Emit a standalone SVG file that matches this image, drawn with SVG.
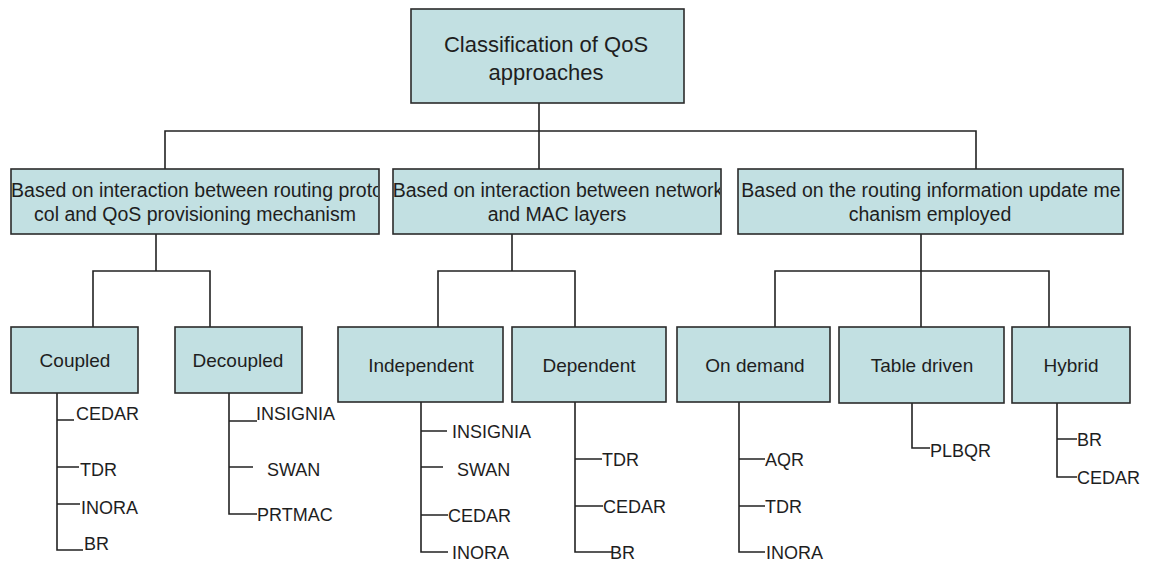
<svg xmlns="http://www.w3.org/2000/svg" width="1152" height="561" viewBox="0 0 1152 561">
<style>
.box{fill:#c2e0e2;stroke:#2b2b2b;stroke-width:1.6}
.t{font-family:"Liberation Sans",Arial,sans-serif;fill:#1e1e1e}
.c{text-anchor:middle}
.l1{font-size:22px}
.l2{font-size:19.5px}
.l3{font-size:19px}
.lf{font-size:18px}
.ln{fill:none;stroke:#222;stroke-width:1.6}
</style>
<defs>
<clipPath id="cp1"><rect x="12" y="170" width="366" height="63"/></clipPath>
<clipPath id="cp2"><rect x="394" y="170" width="326" height="63"/></clipPath>
<clipPath id="cp3"><rect x="739" y="170" width="383" height="63"/></clipPath>
</defs>
<rect width="1152" height="561" fill="#ffffff"/>
<g id="connectors">
<path class="ln" d="M539 103V169M165 169V131H976V169"/>
<path class="ln" d="M156 234V271M93 327V271H210V327"/>
<path class="ln" d="M512 234V271M438 327V271H575V327"/>
<path class="ln" d="M921 234V327M775 327V271H1049V327"/>
<path class="ln" d="M57 393V550H83M57 420H74M57 467H79M57 504H80"/>
<path class="ln" d="M229 393V514H257M229 421H257M229 467H253"/>
<path class="ln" d="M421 402V552H448M421 431H447M421 467H443M421 515H448"/>
<path class="ln" d="M575 402V552H613M575 459H602M575 506H603"/>
<path class="ln" d="M739 402V552H765M739 459H765M739 506H765"/>
<path class="ln" d="M912 403V448H930"/>
<path class="ln" d="M1057 403V477H1077M1057 439H1077"/>
</g>
<g id="root">
<rect class="box" x="411" y="9" width="273" height="94"/>
<text class="t c l1" x="546" y="52">Classification of QoS</text>
<text class="t c l1" x="546" y="80">approaches</text>
</g>
<g id="n-interaction-routing">
<rect class="box" x="11" y="169" width="368" height="65"/>
<g clip-path="url(#cp1)">
<text class="t c l2" x="197" y="197">Based on interaction between routing proto</text>
<text class="t c l2" x="195" y="221">col and QoS provisioning mechanism</text>
</g>
</g>
<g id="n-interaction-layers">
<rect class="box" x="393" y="169" width="328" height="65"/>
<g clip-path="url(#cp2)">
<text class="t c l2" x="558" y="197">Based on interaction between network</text>
<text class="t c l2" x="557" y="221">and MAC layers</text>
</g>
</g>
<g id="n-update">
<rect class="box" x="738" y="169" width="385" height="65"/>
<g clip-path="url(#cp3)">
<text class="t c l2" x="931" y="197">Based on the routing information update me</text>
<text class="t c l2" x="930" y="221">chanism employed</text>
</g>
</g>
<g id="n-coupled">
<rect class="box" x="11" y="327" width="127" height="66"/>
<text class="t c l3" x="75" y="367">Coupled</text>
</g>
<g id="n-decoupled">
<rect class="box" x="175" y="327" width="127" height="66"/>
<text class="t c l3" x="238" y="367">Decoupled</text>
</g>
<g id="n-independent">
<rect class="box" x="338" y="327" width="165" height="75"/>
<text class="t c l3" x="421" y="372">Independent</text>
</g>
<g id="n-dependent">
<rect class="box" x="512" y="327" width="154" height="75"/>
<text class="t c l3" x="589" y="372">Dependent</text>
</g>
<g id="n-ondemand">
<rect class="box" x="677" y="327" width="153" height="75"/>
<text class="t c l3" x="755" y="372">On demand</text>
</g>
<g id="n-tabledriven">
<rect class="box" x="839" y="327" width="165" height="76"/>
<text class="t c l3" x="922" y="372">Table driven</text>
</g>
<g id="n-hybrid">
<rect class="box" x="1012" y="327" width="118" height="76"/>
<text class="t c l3" x="1071" y="372">Hybrid</text>
</g>
<g id="leaves-coupled">
<text class="t lf" x="76" y="420">CEDAR</text>
<text class="t lf" x="80" y="476">TDR</text>
<text class="t lf" x="81" y="514">INORA</text>
<text class="t lf" x="84" y="550">BR</text>
</g>
<g id="leaves-decoupled">
<text class="t lf" x="256" y="420">INSIGNIA</text>
<text class="t lf" x="267" y="476">SWAN</text>
<text class="t lf" x="257" y="521">PRTMAC</text>
</g>
<g id="leaves-independent">
<text class="t lf" x="452" y="438">INSIGNIA</text>
<text class="t lf" x="457" y="476">SWAN</text>
<text class="t lf" x="448" y="522">CEDAR</text>
<text class="t lf" x="452" y="559">INORA</text>
</g>
<g id="leaves-dependent">
<text class="t lf" x="602" y="466">TDR</text>
<text class="t lf" x="603" y="513">CEDAR</text>
<text class="t lf" x="610" y="559">BR</text>
</g>
<g id="leaves-ondemand">
<text class="t lf" x="765" y="466">AQR</text>
<text class="t lf" x="765" y="513">TDR</text>
<text class="t lf" x="766" y="559">INORA</text>
</g>
<g id="leaves-tabledriven">
<text class="t lf" x="930" y="457">PLBQR</text>
</g>
<g id="leaves-hybrid">
<text class="t lf" x="1077" y="446">BR</text>
<text class="t lf" x="1077" y="484">CEDAR</text>
</g>
</svg>
